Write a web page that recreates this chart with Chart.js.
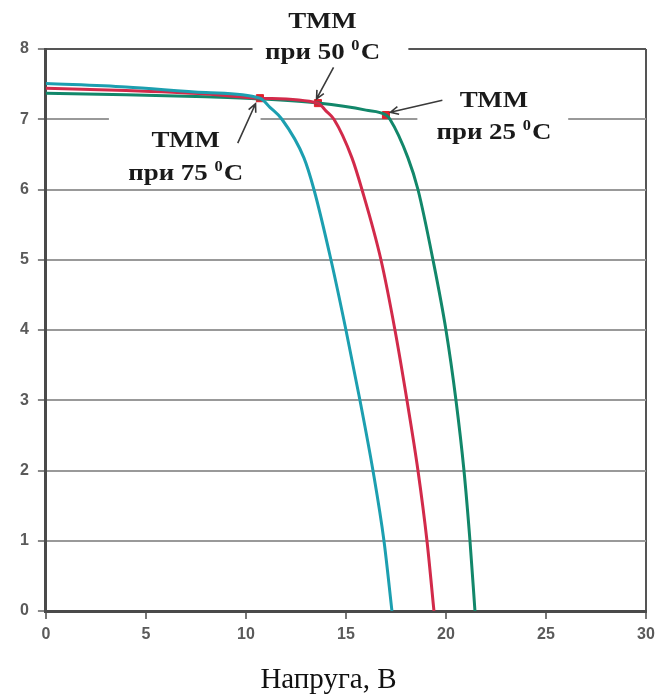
<!DOCTYPE html>
<html>
<head>
<meta charset="utf-8">
<script src="https://cdn.jsdelivr.net/npm/chart.js@4"></script>
<style>
  html, body { margin: 0; padding: 0; background: #fff; }
  #wrap { width: 659px; height: 698px; }
</style>
</head>
<body>
<div id="wrap"><canvas id="ivChart"></canvas></div>
<script>
// I-V curves of the module at three temperatures (voltage, V / current, A)
const v75 = [0, 4, 8, 10.7, 11.2, 11.8, 12.9, 13.4, 14.25, 15.0, 15.7, 16.35, 16.9, 17.3];
const i75 = [7.51, 7.46, 7.38, 7.30, 7.17, 7.0, 6.45, 6.0, 5.0, 4.0, 3.0, 2.0, 1.0, 0];

const v50 = [0, 4, 8, 10.7, 13.6, 14.0, 14.4, 15.3, 15.8, 16.75, 17.45, 18.05, 18.6, 19.05, 19.4];
const i50 = [7.44, 7.41, 7.36, 7.30, 7.23, 7.12, 7.0, 6.45, 6.0, 5.0, 4.0, 3.0, 2.0, 1.0, 0];

const v25 = [0, 4, 8, 10.7, 13.6, 16.0, 17.0, 17.2, 18.1, 18.6, 19.35, 20.0, 20.5, 20.9, 21.2, 21.45];
const i25 = [7.37, 7.35, 7.32, 7.29, 7.23, 7.13, 7.06, 7.0, 6.45, 6.0, 5.0, 4.0, 3.0, 2.0, 1.0, 0];

// maximum power points (75, 50, 25 °C)
const mppV = [10.7, 13.6, 17.0];
const mppI = [7.30, 7.23, 7.06];

const xTicks = [0, 5, 10, 15, 20, 25, 30];
const yTicks = [0, 1, 2, 3, 4, 5, 6, 7, 8];

const pts = (xs, ys) => xs.map((x, k) => ({ x: x, y: ys[k] }));

// callouts: label text, white patch behind it, arrow to the point (axis units)
const notes = [
  { temp: '75', cx: 6.99, ly: [6.69, 6.22], box: [3.15, 10.73, 7.12, 6.05], from: [9.59, 6.66], to: [10.48, 7.22] },
  { temp: '50', cx: 13.83, ly: [8.39, 7.94], box: [10.33, 18.12, 8.7, 7.66], from: [14.38, 7.74], to: [13.53, 7.29] },
  { temp: '25', cx: 22.4, ly: [7.26, 6.80], box: [18.57, 26.11, 7.47, 6.62], from: [19.82, 7.27], to: [17.22, 7.10] }
];

const serif = '"Liberation Serif", "DejaVu Serif", serif';
const STRETCH = 1.17; // callout lettering is a little wider than plain Times

const callouts = {
  id: 'callouts',
  beforeDatasetsDraw(chart) {
    const { ctx, scales: { x, y } } = chart;
    ctx.save();
    ctx.fillStyle = '#fff';
    notes.forEach(n => {
      const x0 = x.getPixelForValue(n.box[0]), x1 = x.getPixelForValue(n.box[1]);
      const y0 = y.getPixelForValue(n.box[2]), y1 = y.getPixelForValue(n.box[3]);
      ctx.fillRect(x0, y0, x1 - x0, y1 - y0);
    });
    ctx.restore();
  },
  afterDraw(chart) {
    const { ctx, scales: { x, y } } = chart;
    notes.forEach(n => {
      // arrow
      const ax = x.getPixelForValue(n.from[0]), ay = y.getPixelForValue(n.from[1]);
      const bx = x.getPixelForValue(n.to[0]), by = y.getPixelForValue(n.to[1]);
      const ang = Math.atan2(by - ay, bx - ax);
      ctx.save();
      ctx.strokeStyle = '#3a3a3a';
      ctx.lineWidth = 1.6;
      ctx.beginPath();
      ctx.moveTo(ax, ay);
      ctx.lineTo(bx, by);
      ctx.moveTo(bx - 9 * Math.cos(ang - 0.45), by - 9 * Math.sin(ang - 0.45));
      ctx.lineTo(bx, by);
      ctx.lineTo(bx - 9 * Math.cos(ang + 0.45), by - 9 * Math.sin(ang + 0.45));
      ctx.stroke();
      ctx.restore();

      // text, stretched horizontally around the label centre
      const cx = x.getPixelForValue(n.cx);
      ctx.save();
      ctx.translate(cx, 0);
      ctx.scale(STRETCH, 1);
      ctx.fillStyle = '#1a1a1a';
      ctx.textBaseline = 'middle';
      ctx.textAlign = 'center';
      ctx.font = 'bold 23px ' + serif;
      ctx.fillText('ТММ', 0, y.getPixelForValue(n.ly[0]));

      const ly = y.getPixelForValue(n.ly[1]);
      const a = 'при ' + n.temp + ' ', b = '0', c = 'C';
      const wa = ctx.measureText(a).width, wc = ctx.measureText(c).width;
      ctx.font = 'bold 14px ' + serif;
      const wb = ctx.measureText(b).width;
      const sx = -(wa + wb + wc + 1) / 2;
      ctx.textAlign = 'left';
      ctx.font = 'bold 23px ' + serif;
      ctx.fillText(a, sx, ly);
      ctx.font = 'bold 14px ' + serif;
      ctx.fillText(b, sx + wa, ly - 7);
      ctx.font = 'bold 23px ' + serif;
      ctx.fillText(c, sx + wa + wb + 1, ly);
      ctx.restore();
    });
  }
};

const curve = (data, color) => ({
  data: data,
  showLine: true,
  borderColor: color,
  borderWidth: 3,
  pointRadius: 0,
  cubicInterpolationMode: 'monotone',
  fill: false
});

const tickFont = { family: '"Liberation Sans", Arial, sans-serif', size: 16, weight: 'bold' };

new Chart(document.getElementById('ivChart'), {
  type: 'scatter',
  data: {
    datasets: [
      curve(pts(v75, i75), '#1c9fb0'),
      curve(pts(v50, i50), '#d22a4a'),
      curve(pts(v25, i25), '#12876a'),
      {
        data: pts(mppV, mppI),
        pointStyle: 'rect',
        pointRadius: 5,
        backgroundColor: '#e0202c',
        borderColor: '#e0202c',
        borderWidth: 1
      }
    ]
  },
  options: {
    responsive: true,
    maintainAspectRatio: false,
    animation: false,
    layout: { padding: { left: 11, right: 13, top: 49, bottom: 0 } },
    plugins: {
      legend: { display: false },
      tooltip: { enabled: false },
      title: {
        display: true,
        position: 'bottom',
        text: 'Напруга, В',
        color: '#111',
        font: { family: serif, size: 29, weight: 'normal' },
        padding: { top: 13, bottom: 0 }
      }
    },
    scales: {
      x: {
        type: 'linear',
        min: 0, max: 30,
        afterBuildTicks: s => { s.ticks = xTicks.map(v => ({ value: v })); },
        // let the "30" label hang into the margin instead of shrinking the plot
        afterFit: s => { s.paddingRight = 0; },
        grid: {
          color: c => c.tick && c.tick.value === 30 ? '#555' : 'rgba(0,0,0,0)',
          lineWidth: 2,
          tickColor: '#777',
          tickLength: 8
        },
        border: { color: '#4a4a4a', width: 3 },
        ticks: { color: '#5a5a5a', padding: 6, font: tickFont }
      },
      y: {
        min: 0, max: 8,
        afterBuildTicks: s => { s.ticks = yTicks.map(v => ({ value: v })); },
        grid: {
          color: c => c.tick && c.tick.value === 8 ? '#555' : '#999',
          lineWidth: 2,
          tickColor: '#888',
          tickLength: 8
        },
        border: { color: '#4a4a4a', width: 3 },
        ticks: { color: '#5a5a5a', padding: 9, font: tickFont }
      }
    }
  },
  plugins: [callouts]
});
</script>
</body>
</html>
